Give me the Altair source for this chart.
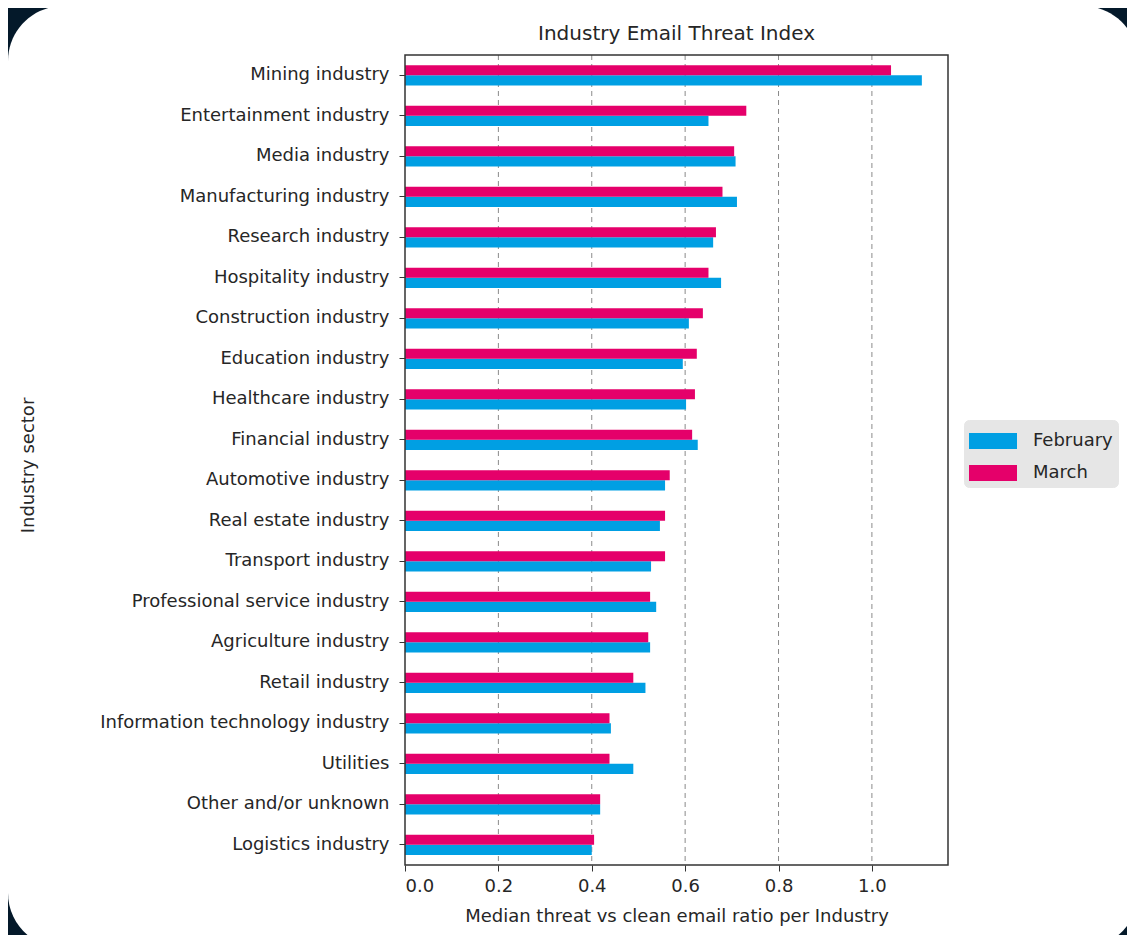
import altair as alt
import pandas as pd

industries = [
    "Mining industry", "Entertainment industry", "Media industry", "Manufacturing industry",
    "Research industry", "Hospitality industry", "Construction industry", "Education industry",
    "Healthcare industry", "Financial industry", "Automotive industry", "Real estate industry",
    "Transport industry", "Professional service industry", "Agriculture industry", "Retail industry",
    "Information technology industry", "Utilities", "Other and/or unknown", "Logistics industry",
]
february = [1.107, 0.650, 0.708, 0.711, 0.660, 0.677, 0.608, 0.595, 0.602, 0.627,
            0.557, 0.546, 0.527, 0.538, 0.525, 0.515, 0.441, 0.489, 0.418, 0.400]
march = [1.041, 0.731, 0.705, 0.680, 0.666, 0.650, 0.638, 0.625, 0.621, 0.615,
         0.567, 0.557, 0.557, 0.525, 0.521, 0.489, 0.438, 0.438, 0.418, 0.405]
months = ["February", "March"]
colors = ["#009FE3", "#E5006A"]
x_ticks = [0.0, 0.2, 0.4, 0.6, 0.8, 1.0]
grid_ticks = [0.2, 0.4, 0.6, 0.8, 1.0]
chart_title = "Industry Email Threat Index"

rows = []
for i, name in enumerate(industries):
    rows.append({"industry": name, "month": "February", "value": february[i]})
    rows.append({"industry": name, "month": "March", "value": march[i]})
df = pd.DataFrame(rows)

FONT = "DejaVu Sans"
TXT = "#262626"
W, H = 543, 810
xscale = alt.Scale(domain=[0, 1.163], nice=False, zero=True)

card = alt.Chart(pd.DataFrame({"c": [0]})).mark_rect(
    fill="white", cornerRadius=55
).encode(
    x=alt.value(-397), x2=alt.value(733),
    y=alt.value(-49), y2=alt.value(893),
)

grid = alt.Chart(pd.DataFrame({"g": grid_ticks})).mark_rule(
    color="#8a8a8a", strokeDash=[5, 4], strokeWidth=1
).encode(x=alt.X("g:Q", scale=xscale))

bars = alt.Chart(df).mark_bar().encode(
    x=alt.X(
        "value:Q",
        scale=xscale,
        axis=alt.Axis(
            values=x_ticks, format=".1f", grid=False, tickSize=6, tickColor="#333",
            domain=False, zindex=1,
            labelPadding=6, labelFontSize=18, labelColor=TXT, labelFont=FONT,
            title="Median threat vs clean email ratio per Industry",
            titleFont=FONT, titleFontSize=18, titleFontWeight="normal", titleColor=TXT,
            titleY=51, titleBaseline="middle",
        ),
    ),
    y=alt.Y(
        "industry:N", sort=industries,
        scale=alt.Scale(paddingInner=0.5, paddingOuter=0.25),
        axis=alt.Axis(
            grid=False, tickSize=6, tickColor="#333", domain=False, zindex=1,
            labelPadding=10, labelFontSize=18, labelColor=TXT, labelFont=FONT,
            labelLimit=0,
            title="Industry sector", titleFont=FONT, titleFontSize=18,
            titleFontWeight="normal", titleColor=TXT,
            titleX=-377, titleY=410, titleAngle=-90, titleAlign="center",
            titleBaseline="middle",
        ),
    ),
    yOffset=alt.YOffset("month:N", sort=["March", "February"],
                        scale=alt.Scale(paddingInner=0, paddingOuter=0)),
    color=alt.Color(
        "month:N",
        scale=alt.Scale(domain=months, range=colors),
        legend=alt.Legend(
            title=None, orient="none", legendX=559, legendY=365,
            symbolType="M-1,-0.5H2V0.5H-1Z", symbolSize=1024,
            symbolStrokeWidth=0, labelFont=FONT, labelFontSize=18, labelColor=TXT,
            labelOffset=32, rowPadding=7, padding=5,
            fillColor="#E6E6E6", cornerRadius=5, strokeColor="#E6E6E6",
        ),
    ),
)

frame = alt.Chart(pd.DataFrame({"f": [0]})).mark_rect(
    fill=None, stroke="#333", strokeWidth=1.5
).encode(
    x=alt.value(0), x2=alt.value(W), y=alt.value(0), y2=alt.value(H),
)

title = alt.Chart(pd.DataFrame({"t": [chart_title]})).mark_text(
    font=FONT, fontSize=20, color=TXT, align="center", baseline="alphabetic"
).encode(
    text="t:N", x=alt.value(W / 2), y=alt.value(-15),
)

chart = alt.layer(card, grid, bars, frame, title).properties(
    width=W, height=H,
    background="#04192A",
    padding={"left": 397, "top": 47, "right": 179, "bottom": 70},
    autosize=alt.AutoSizeParams(type="none"),
).configure_view(
    stroke=None, fill="white"
)

chart.save("out.html", embed_options={"renderer": "svg", "actions": False})
